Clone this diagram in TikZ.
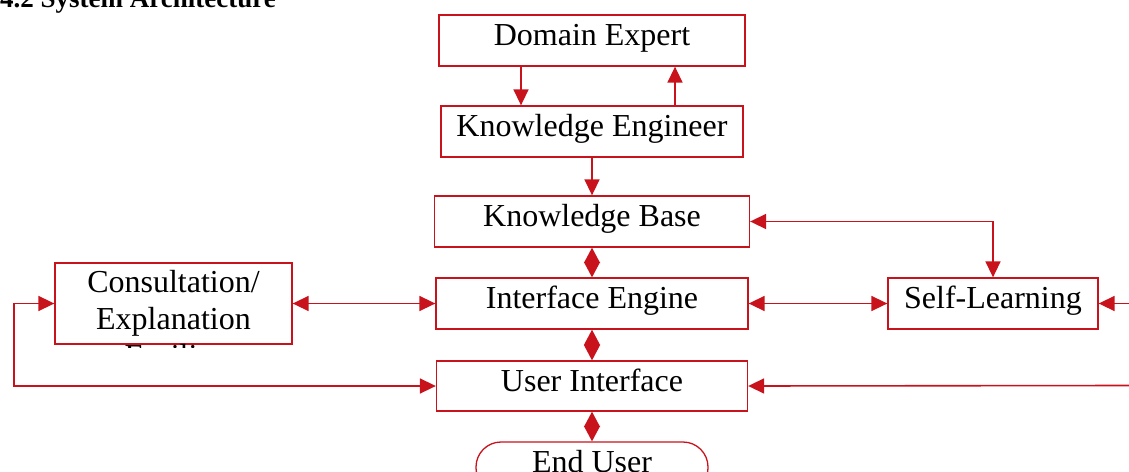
\documentclass[tikz,border=0pt]{standalone}
\usepackage{fontspec}
\setmainfont{Liberation Serif}
\usetikzlibrary{arrows.meta}

\definecolor{archred}{RGB}{200,18,28}

\tikzset{
    block/.style={draw=archred, line width=1.3pt, inner sep=0pt,
        text height=22pt, text depth=12pt, font=\fontsize{32}{37}\selectfont},
    label/.style={inner sep=0pt, anchor=base, font=\fontsize{32}{37}\selectfont},
    link/.style={draw=archred, line width=1.6pt, -{Triangle[length=16pt,width=15pt]}},
    twoway/.style={draw=archred, line width=1.6pt,
        {Triangle[length=16pt,width=15pt]}-{Triangle[length=16pt,width=15pt]}},
    joint/.style={draw=archred, line width=1.6pt,
        {Triangle[length=15.5pt,width=16pt]}-{Triangle[length=15.5pt,width=16pt]}},
}

\begin{document}
\begin{tikzpicture}[x=1pt, y=-1pt]
    \useasboundingbox (0,0) rectangle (1129,471);

    \node[anchor=base west, inner sep=0pt, font=\bfseries\fontsize{27}{30}\selectfont] (title) at (0,7) {4.2 System Architecture};

    % main column
    \node[block, minimum width=306pt, minimum height=51pt] (de) at (592,40.5) {Domain Expert};
    \node[block, minimum width=302pt, minimum height=51pt] (ke) at (592,131.5) {Knowledge Engineer};
    \node[block, minimum width=315pt, minimum height=51pt] (kb) at (592,221.5) {Knowledge Base};
    \node[block, minimum width=312pt, minimum height=51pt] (ie) at (592,303.5) {Interface Engine};
    \node[block, minimum width=311pt, minimum height=50pt] (ui) at (592,386) {User Interface};
    \node[block, minimum width=232pt, minimum height=51pt, rounded corners=25pt] (eu) at (592,467.5) {End User};

    % side boxes
    \node[block, minimum width=210pt, minimum height=51pt] (sl) at (993,303.5) {Self-Learning};
    \node[block, minimum width=237pt, minimum height=81pt] (cf) at (173.5,303.5) {};
    \begin{scope}
        \clip (cf.north west) rectangle ([yshift=-2.5pt]cf.south east);
        \node[label] (cf1) at (173.5,292) {Consultation/};
        \node[label] (cf2) at (173.5,329) {Explanation};
        \node[label] (cf3) at (173.5,366) {Facility};
    \end{scope}

    \coordinate (lp) at (14,386);
    \coordinate (rs) at (1129,303.5);
    \coordinate (ru) at (1129,385.5);

    \draw[link] ([xshift=-71pt]de.south) -- ([xshift=-71pt]ke.north);
    \draw[link] ([xshift=83pt]ke.north) -- ([xshift=83pt]de.south);
    \draw[link] (ke.south) -- (kb.north);

    \draw[joint] (kb.south) -- (ie.north);
    \draw[joint] (ie.south) -- (ui.north);
    \draw[joint] (ui.south) -- (eu.north);

    \draw[twoway] (kb.east) -| (sl.north);
    \draw[twoway] (ie.east) -- (sl.west);
    \draw[twoway] (cf.east) -- (ie.west);
    \draw[twoway] (cf.west) -| (lp) -- (ui.west);
%    \draw[twoway] (rs) |- (ru);
    \draw[link] (rs) -- (sl.east);
    \draw[link] (ru) -- (ui.east);

\end{tikzpicture}
\end{document}
